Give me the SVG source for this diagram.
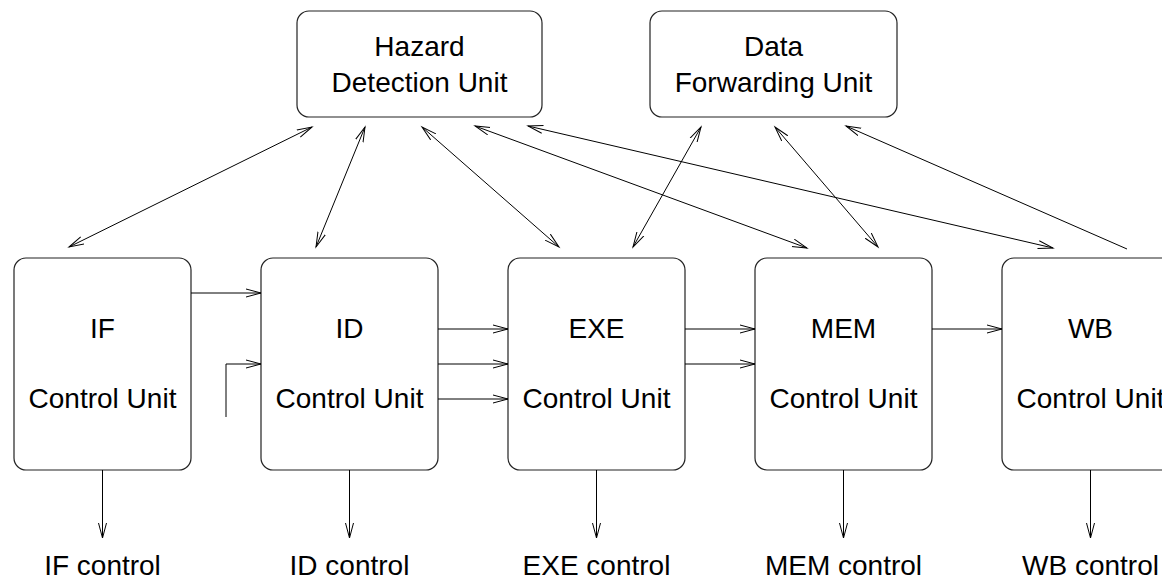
<svg xmlns="http://www.w3.org/2000/svg" width="1162" height="579" viewBox="0 0 1162 579">
<style>
.box{fill:#fff;stroke:#222;stroke-width:1.2}
.t{font-family:"Liberation Sans",Arial,sans-serif;font-size:28px;fill:#000;text-anchor:middle}
.c{fill:none;stroke:#000;stroke-width:1}
</style>
<defs>
<marker id="ah" markerUnits="userSpaceOnUse" markerWidth="18" markerHeight="12" refX="15" refY="5" orient="auto-start-reverse">
<path d="M0,1 L15,5 L0,9" fill="none" stroke="#000" stroke-width="1"/>
</marker>
</defs>
<rect width="1162" height="579" fill="#fff"/>
<g id="hazard">
<rect class="box" x="297" y="11" width="245" height="106" rx="12"/>
<text class="t" x="419.5" y="56">Hazard</text>
<text class="t" x="419.5" y="92">Detection Unit</text>
</g>
<g id="forward">
<rect class="box" x="650" y="11" width="247" height="106" rx="12"/>
<text class="t" x="773.5" y="56">Data</text>
<text class="t" x="773.5" y="92">Forwarding Unit</text>
</g>
<g id="if">
<rect class="box" x="14" y="258" width="177" height="212" rx="12"/>
<text class="t" x="102.5" y="338">IF</text>
<text class="t" x="102.5" y="408">Control Unit</text>
</g>
<g id="id">
<rect class="box" x="261" y="258" width="177" height="212" rx="12"/>
<text class="t" x="349.5" y="338">ID</text>
<text class="t" x="349.5" y="408">Control Unit</text>
</g>
<g id="exe">
<rect class="box" x="508" y="258" width="177" height="212" rx="12"/>
<text class="t" x="596.5" y="338">EXE</text>
<text class="t" x="596.5" y="408">Control Unit</text>
</g>
<g id="mem">
<rect class="box" x="755" y="258" width="177" height="212" rx="12"/>
<text class="t" x="843.5" y="338">MEM</text>
<text class="t" x="843.5" y="408">Control Unit</text>
</g>
<g id="wb">
<rect class="box" x="1002" y="258" width="177" height="212" rx="12"/>
<text class="t" x="1090.5" y="338">WB</text>
<text class="t" x="1090.5" y="408">Control Unit</text>
</g>
<g id="labels">
<text class="t" x="102.5" y="575">IF control</text>
<text class="t" x="349.5" y="575">ID control</text>
<text class="t" x="596.5" y="575">EXE control</text>
<text class="t" x="843.5" y="575">MEM control</text>
<text class="t" x="1090.5" y="575">WB control</text>
</g>
<g id="connectors" class="c">
<line x1="312" y1="127" x2="69" y2="247" marker-start="url(#ah)" marker-end="url(#ah)"/>
<line x1="365" y1="127" x2="316" y2="247" marker-start="url(#ah)" marker-end="url(#ah)"/>
<line x1="422" y1="127" x2="559" y2="247" marker-start="url(#ah)" marker-end="url(#ah)"/>
<line x1="475" y1="126" x2="807" y2="248" marker-start="url(#ah)" marker-end="url(#ah)"/>
<line x1="528" y1="126" x2="1053" y2="248" marker-start="url(#ah)" marker-end="url(#ah)"/>
<line x1="701" y1="127" x2="633" y2="247" marker-start="url(#ah)" marker-end="url(#ah)"/>
<line x1="775" y1="127" x2="878" y2="247" marker-start="url(#ah)" marker-end="url(#ah)"/>
<line x1="846" y1="126" x2="1127" y2="249" marker-start="url(#ah)"/>
<line x1="191" y1="293" x2="261" y2="293" marker-end="url(#ah)"/>
<polyline points="226,417 226,364 261,364" marker-end="url(#ah)"/>
<line x1="438" y1="329" x2="508" y2="329" marker-end="url(#ah)"/>
<line x1="438" y1="364" x2="508" y2="364" marker-end="url(#ah)"/>
<line x1="438" y1="399" x2="508" y2="399" marker-end="url(#ah)"/>
<line x1="685" y1="329" x2="755" y2="329" marker-end="url(#ah)"/>
<line x1="685" y1="364" x2="755" y2="364" marker-end="url(#ah)"/>
<line x1="932" y1="329" x2="1002" y2="329" marker-end="url(#ah)"/>
<line x1="102.5" y1="470" x2="102.5" y2="538" marker-end="url(#ah)"/>
<line x1="349.5" y1="470" x2="349.5" y2="538" marker-end="url(#ah)"/>
<line x1="596.5" y1="470" x2="596.5" y2="538" marker-end="url(#ah)"/>
<line x1="843.5" y1="470" x2="843.5" y2="538" marker-end="url(#ah)"/>
<line x1="1090.5" y1="470" x2="1090.5" y2="538" marker-end="url(#ah)"/>
</g>
</svg>
